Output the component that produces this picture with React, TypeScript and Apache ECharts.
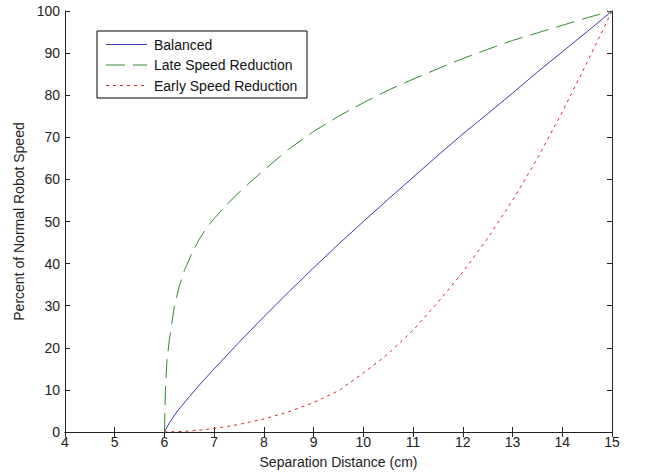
import React, { useEffect, useRef } from "react";
import * as echarts from "echarts";

const xTicks = [4, 5, 6, 7, 8, 9, 10, 11, 12, 13, 14, 15];
const yTicks = [0, 10, 20, 30, 40, 50, 60, 70, 80, 90, 100];

const balancedX = [6, 6.1, 6.25, 6.5, 6.75, 7, 7.5, 8, 8.5, 9, 9.5, 10, 10.5, 11, 11.5, 12, 12.5, 13, 13.5, 14, 14.5, 15];
const balancedY = [0, 2.2, 4.8, 8.4, 11.8, 15, 21.3, 27.4, 33.3, 39, 44.6, 50, 55.3, 60.5, 65.7, 70.8, 75.6, 80.5, 85.5, 90.3, 95.1, 100];

const lateX = [6, 6.02, 6.05, 6.1, 6.2, 6.3, 6.4, 6.55, 6.7, 6.85, 7, 7.25, 7.5, 7.75, 8, 8.5, 9, 9.5, 10, 10.5, 11, 11.5, 12, 12.5, 13, 13.5, 14, 14.5, 15];
const lateY = [0, 10, 17, 22, 30, 34.7, 38.3, 42.4, 45.8, 48.5, 50.7, 54, 56.9, 59.6, 62.2, 67.2, 71.4, 75, 78.2, 81.2, 83.8, 86.3, 88.7, 90.9, 93, 94.8, 96.6, 98.4, 100];

const earlyX = [6, 6.5, 7, 7.5, 8, 8.5, 9, 9.5, 10, 10.5, 11, 11.5, 12, 12.5, 13, 13.5, 14, 14.5, 15];
const earlyY = [0, 0.2, 0.8, 1.8, 3.1, 4.8, 7, 9.8, 14, 18.6, 24.2, 30.8, 38, 46, 55, 65, 76, 87.8, 100];

const seriesNames = ["Balanced", "Late Speed Reduction", "Early Speed Reduction"];
const seriesColors = ["#3a3ab4", "#2f8a2f", "#cc2a2a"];
const seriesDashes: (number[] | null)[] = [null, [19, 8], [3, 4]];

const font = "'Liberation Sans', Arial, sans-serif";
const axisColor = "#222";

function pairs(xs: number[], ys: number[]) {
  return xs.map((x, i) => [x, ys[i]]);
}

export default function App() {
  const ref = useRef<HTMLDivElement>(null);
  useEffect(() => {
    if (!ref.current) return;
    const chart = echarts.init(ref.current, undefined, { renderer: "svg" });
    const baseAxis = {
      type: "value" as const,
      splitLine: { show: false },
      axisLine: { show: true, lineStyle: { color: axisColor, width: 1 } },
      axisTick: { show: true, inside: true, length: 5, lineStyle: { color: axisColor } },
    };
    const legendRows = [44.5, 65, 85.5];
    const legendGraphics: any[] = [
      {
        type: "rect",
        shape: { x: 97, y: 31, width: 210, height: 67 },
        style: { fill: "#fff", stroke: "#000", lineWidth: 1 },
        z: 10,
      },
    ];
    seriesNames.forEach((name, i) => {
      legendGraphics.push({
        type: "line",
        shape: { x1: 106, y1: legendRows[i], x2: 147, y2: legendRows[i] },
        style: {
          stroke: seriesColors[i],
          lineWidth: 1,
          lineDash: seriesDashes[i] || undefined,
        },
        z: 11,
      });
      legendGraphics.push({
        type: "text",
        x: 154,
        y: legendRows[i],
        style: {
          text: name,
          fontFamily: font,
          fontSize: 14,
          fill: "#111",
          verticalAlign: "middle",
          align: "left",
        },
        z: 11,
      });
    });
    chart.setOption({
      animation: false,
      backgroundColor: "#fff",
      grid: { left: 65, right: 35, top: 11, bottom: 42, containLabel: false },
      graphic: legendGraphics,
      xAxis: [
        {
          ...baseAxis,
          min: 4,
          max: 15,
          interval: 1,
          position: "bottom",
          axisLabel: {
            color: axisColor,
            fontFamily: font,
            fontSize: 14,
            margin: 3,
            formatter: (v: number) => (xTicks.includes(v) ? String(v) : ""),
          },
          name: "Separation Distance (cm)",
          nameLocation: "middle",
          nameGap: 23,
          nameTextStyle: { color: axisColor, fontFamily: font, fontSize: 14 },
        },
        {
          ...baseAxis,
          min: 4,
          max: 15,
          interval: 1,
          position: "top",
          axisLabel: { show: false },
        },
      ],
      yAxis: [
        {
          ...baseAxis,
          min: 0,
          max: 100,
          interval: 10,
          position: "left",
          axisLabel: {
            color: axisColor,
            fontFamily: font,
            fontSize: 14,
            margin: 5,
            formatter: (v: number) => (yTicks.includes(v) ? String(v) : ""),
          },
          name: "Percent of Normal Robot Speed",
          nameLocation: "middle",
          nameGap: 39,
          nameTextStyle: { color: axisColor, fontFamily: font, fontSize: 14 },
        },
        {
          ...baseAxis,
          min: 0,
          max: 100,
          interval: 10,
          position: "right",
          axisLabel: { show: false },
        },
      ],
      series: [
        {
          name: seriesNames[0],
          type: "line",
          data: pairs(balancedX, balancedY),
          symbol: "none",
          lineStyle: { color: seriesColors[0], width: 1, type: "solid" },
        },
        {
          name: seriesNames[1],
          type: "line",
          data: pairs(lateX, lateY),
          symbol: "none",
          lineStyle: { color: seriesColors[1], width: 1, type: seriesDashes[1] },
        },
        {
          name: seriesNames[2],
          type: "line",
          data: pairs(earlyX, earlyY),
          symbol: "none",
          lineStyle: { color: seriesColors[2], width: 1, type: seriesDashes[2] },
        },
      ],
    });
    return () => chart.dispose();
  }, []);
  return (
    <div
      ref={ref}
      style={{ position: "fixed", left: 0, top: 0, width: 647, height: 474, background: "#fff" }}
    />
  );
}
